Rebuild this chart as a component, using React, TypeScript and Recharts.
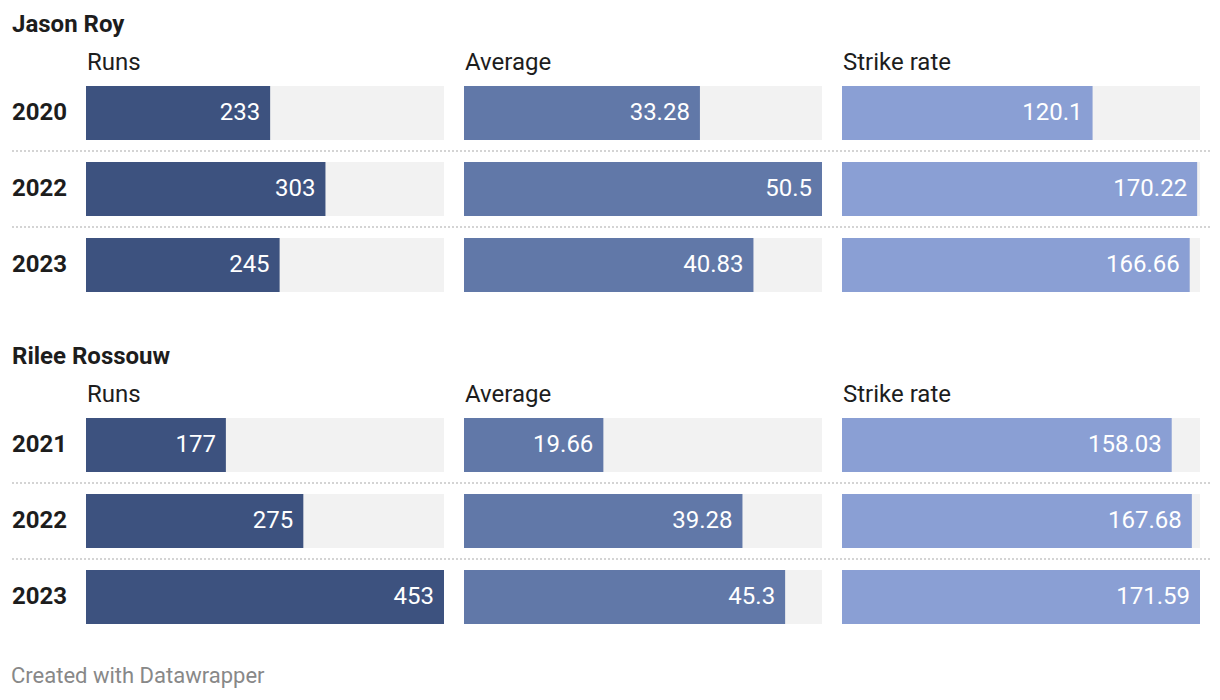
import { Bar, BarChart, LabelList, XAxis, YAxis } from "recharts";

const royYears = ["2020", "2022", "2023"];
const royRuns = [233, 303, 245];
const royAverage = [33.28, 50.5, 40.83];
const royStrikeRate = [120.1, 170.22, 166.66];

const rossouwYears = ["2021", "2022", "2023"];
const rossouwRuns = [177, 275, 453];
const rossouwAverage = [19.66, 39.28, 45.3];
const rossouwStrikeRate = [158.03, 167.68, 171.59];

const metricNames = ["Runs", "Average", "Strike rate"];
const metricColors = ["#3d527f", "#6178a8", "#8a9fd4"];
const metricMax = [
  Math.max(...royRuns, ...rossouwRuns),
  Math.max(...royAverage, ...rossouwAverage),
  Math.max(...royStrikeRate, ...rossouwStrikeRate),
];

const FONT = "Roboto, 'Noto Sans', sans-serif";
const ROW = 76;
const BAR = 54;
const COL_W = 358;
const COL_X = [86, 464, 842];

interface RowDatum {
  year: string;
  value: number;
}

function YearTick({ y, payload }: any) {
  return (
    <text x={12} y={y} dy={7} textAnchor="start" fontSize={24} fontWeight={700} fill="#1d1d1d" fontFamily={FONT}>
      {payload.value}
    </text>
  );
}

interface MetricChartProps {
  data: RowDatum[];
  max: number;
  color: string;
  withYears: boolean;
}

function MetricChart({ data, max, color, withYears }: MetricChartProps) {
  const yW = withYears ? 86 : 0;
  return (
    <BarChart
      layout="vertical"
      width={COL_W + yW}
      height={ROW * data.length}
      data={data}
      margin={{ top: 0, right: 0, bottom: 0, left: 0 }}
      barCategoryGap={(ROW - BAR) / 2}
    >
      <XAxis type="number" domain={[0, max]} hide />
      <YAxis
        type="category"
        dataKey="year"
        width={yW}
        hide={!withYears}
        axisLine={false}
        tickLine={false}
        tick={<YearTick />}
      />
      <Bar dataKey="value" fill={color} barSize={BAR} background={{ fill: "#f2f2f2" }} isAnimationActive={false}>
        <LabelList
          dataKey="value"
          position="insideRight"
          offset={10}
          dy={-2}
          fill="#ffffff"
          fontSize={24}
          fontFamily={FONT}
        />
      </Bar>
    </BarChart>
  );
}

interface PlayerProps {
  name: string;
  top: number;
  years: string[];
  series: number[][];
}

function PlayerBlock({ name, top, years, series }: PlayerProps) {
  const chartTop = top + 86 - (ROW - BAR) / 2;
  return (
    <>
      <div
        style={{
          position: "absolute",
          left: 12,
          top: top + 10,
          fontSize: 24,
          lineHeight: "28px",
          fontWeight: 700,
          color: "#1d1d1d",
        }}
      >
        {name}
      </div>
      {metricNames.map((m, i) => (
        <div
          key={m}
          style={{ position: "absolute", left: COL_X[i] + 1, top: top + 48, fontSize: 24, lineHeight: "28px", color: "#1d1d1d" }}
        >
          {m}
        </div>
      ))}
      {[1, 2].map((r) => (
        <div
          key={r}
          style={{
            position: "absolute",
            left: 12,
            width: 1198,
            top: chartTop + ROW * r - 1,
            borderTop: "2px dotted #d4d4d4",
          }}
        />
      ))}
      {series.map((vals, i) => (
        <div key={i} style={{ position: "absolute", left: i === 0 ? 0 : COL_X[i], top: chartTop }}>
          <MetricChart
            data={years.map((y, k) => ({ year: y, value: vals[k] }))}
            max={metricMax[i]}
            color={metricColors[i]}
            withYears={i === 0}
          />
        </div>
      ))}
    </>
  );
}

export default function App() {
  return (
    <div
      style={{
        position: "absolute",
        left: 0,
        top: 0,
        width: 1220,
        height: 700,
        background: "#ffffff",
        fontFamily: FONT,
      }}
    >
      <PlayerBlock name="Jason Roy" top={0} years={royYears} series={[royRuns, royAverage, royStrikeRate]} />
      <PlayerBlock
        name="Rilee Rossouw"
        top={332}
        years={rossouwYears}
        series={[rossouwRuns, rossouwAverage, rossouwStrikeRate]}
      />
      <div style={{ position: "absolute", left: 11, top: 663, fontSize: 22, lineHeight: "26px", color: "#888888" }}>
        Created with Datawrapper
      </div>
    </div>
  );
}
